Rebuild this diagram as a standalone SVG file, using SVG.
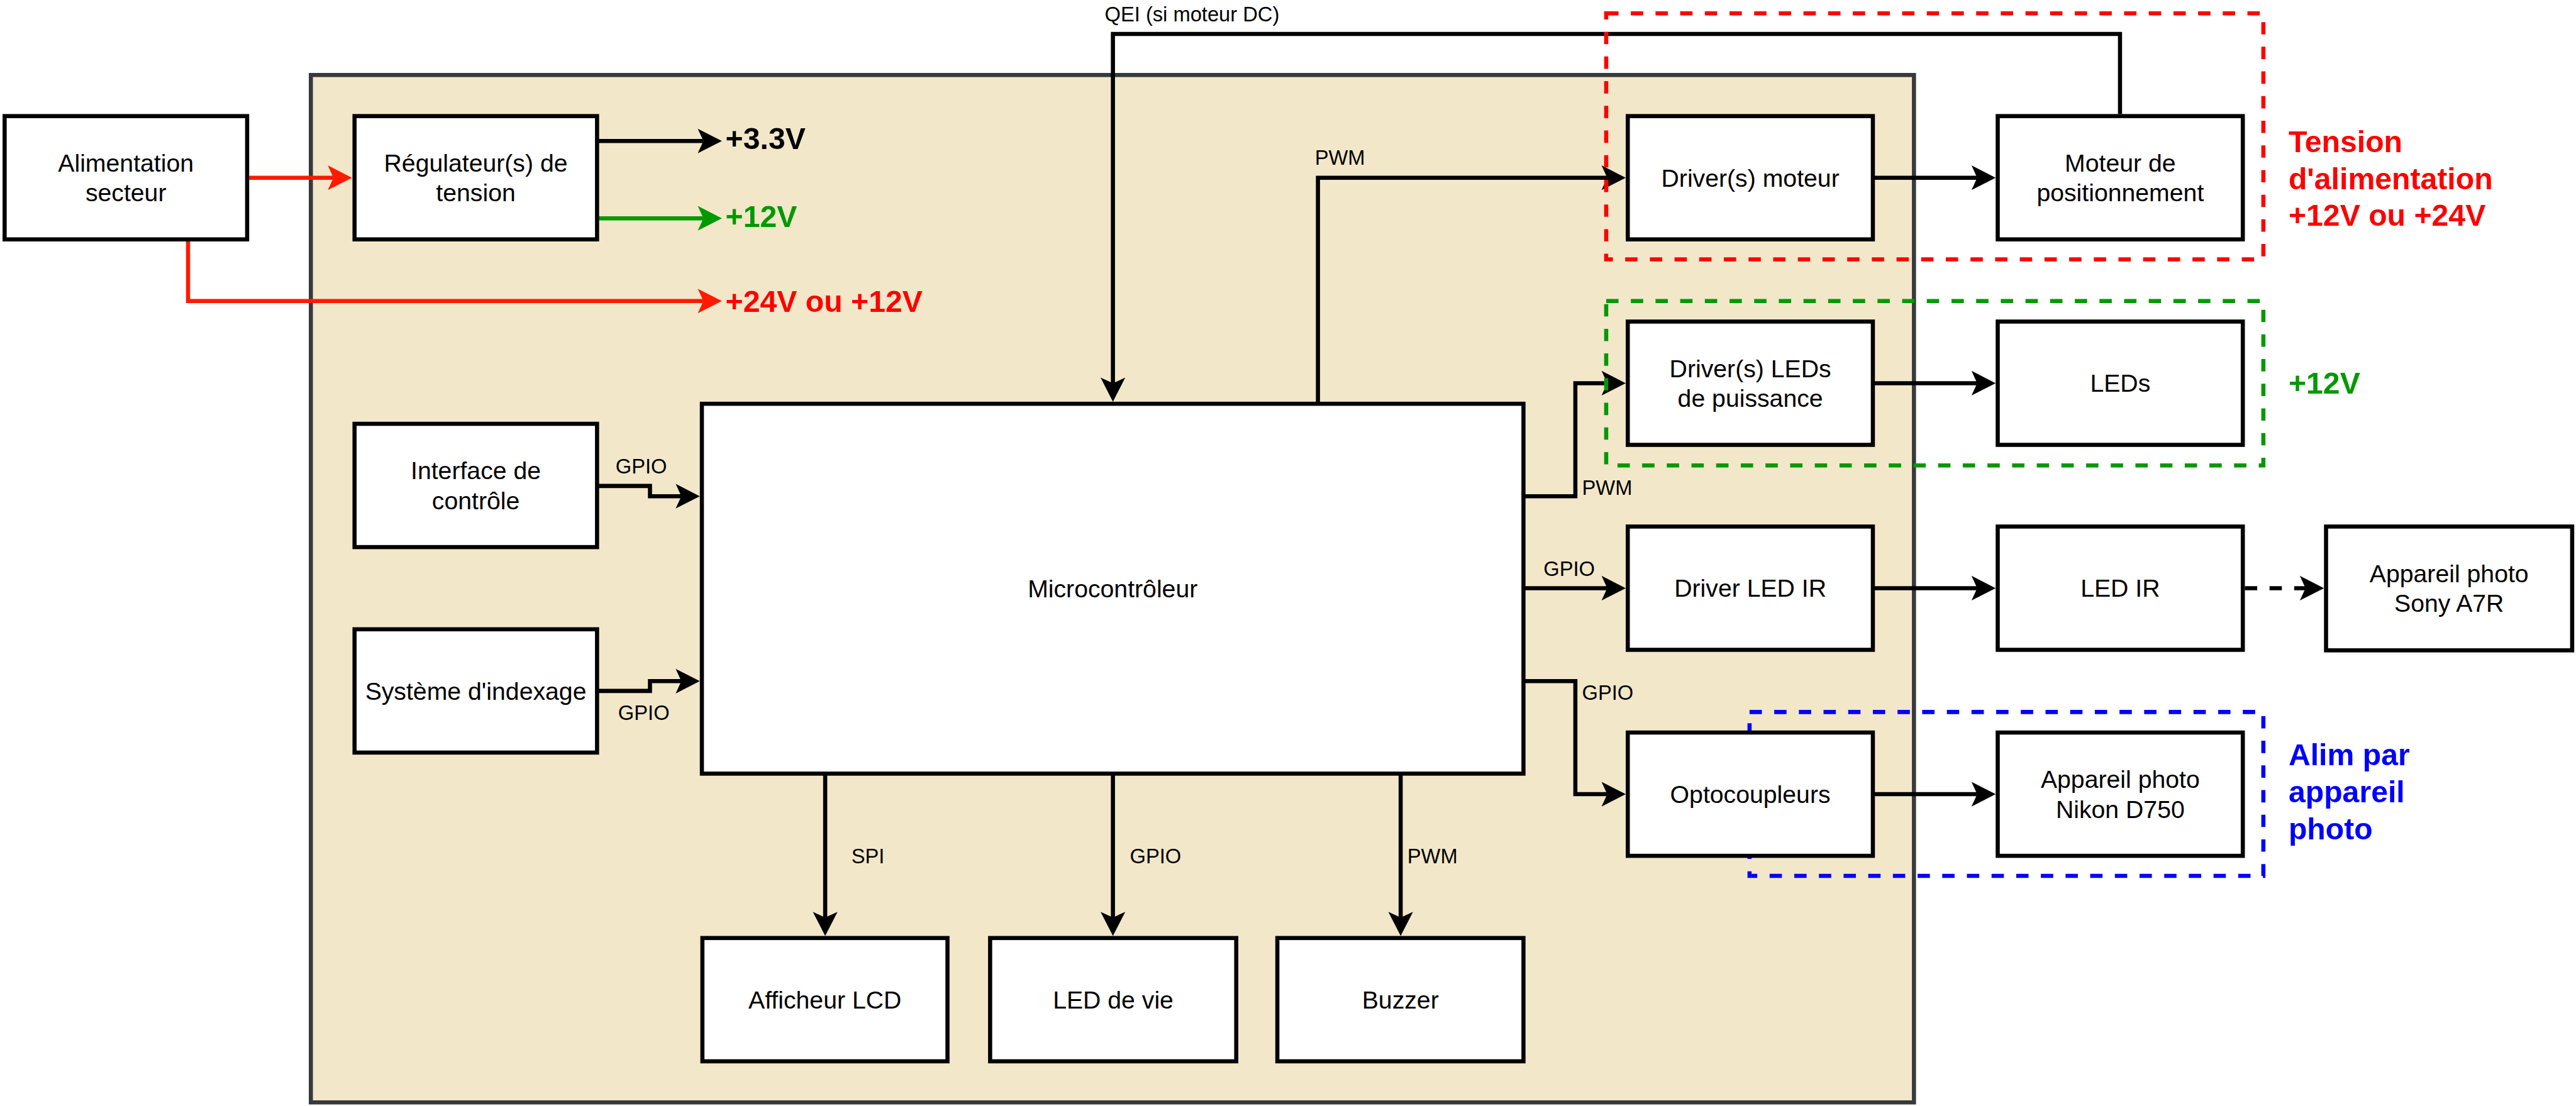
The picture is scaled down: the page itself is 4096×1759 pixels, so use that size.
<svg xmlns="http://www.w3.org/2000/svg" width="4096" height="1759" viewBox="0 0 4096 1759">
<style>
.box{fill:#fff;stroke:#000;stroke-width:8}
.cont{fill:#f2e7c9;stroke:#36393d;stroke-width:8}
.e{fill:none;stroke:#000;stroke-width:8}
.er{stroke:#ff1a00}
.eg{stroke:#009900}
.dsh{stroke-dasharray:24 24}
.grp{fill:none;stroke-width:8;stroke-dasharray:24 24}
text{font-family:"Liberation Sans",Arial,Helvetica,sans-serif;fill:#000}
.t{font-size:48px;text-anchor:middle}
.s{font-size:40px}
.b{font-size:59px;font-weight:bold}
</style>
<defs>
<marker id="ab" markerUnits="userSpaceOnUse" viewBox="-50 -26 52 52" markerWidth="52" markerHeight="52" refX="-36" refY="0" orient="auto" overflow="visible"><path d="M0,0 L-47,-24 L-36,0 L-47,24 Z" fill="#000"/></marker>
<marker id="ar" markerUnits="userSpaceOnUse" viewBox="-50 -26 52 52" markerWidth="52" markerHeight="52" refX="-36" refY="0" orient="auto" overflow="visible"><path d="M0,0 L-47,-24 L-36,0 L-47,24 Z" fill="#ff1a00"/></marker>
<marker id="ag" markerUnits="userSpaceOnUse" viewBox="-50 -26 52 52" markerWidth="52" markerHeight="52" refX="-36" refY="0" orient="auto" overflow="visible"><path d="M0,0 L-47,-24 L-36,0 L-47,24 Z" fill="#009900"/></marker>
</defs>
<rect x="0" y="0" width="4096" height="1759" fill="#fff"/>
<g transform="scale(0.817)">
<g id="carte"><rect class="cont" x="605" y="146" width="3120" height="2000"/></g>

<g id="connectors">
<path class="e er" d="M481,346 L649,346" marker-end="url(#ar)"/>
<path class="e er" d="M366,466 L366,586 L1369,586" marker-end="url(#ar)"/>
<path class="e" d="M1162,274.5 L1369,274.5" marker-end="url(#ab)"/>
<path class="e eg" d="M1162,425 L1369,425" marker-end="url(#ag)"/>
<path class="e" d="M4126,222 L4126,66 L2166,66 L2166,746" marker-end="url(#ab)"/>
<path class="e" d="M2565,786 L2565,346 L3128,346" marker-end="url(#ab)"/>
<path class="e" d="M3645,346 L3848,346" marker-end="url(#ab)"/>
<path class="e" d="M2965,966 L3066,966 L3066,746 L3128,746" marker-end="url(#ab)"/>
<path class="e" d="M3645,746 L3848,746" marker-end="url(#ab)"/>
<path class="e" d="M1162,946 L1265,946 L1265,966 L1326,966" marker-end="url(#ab)"/>
<path class="e" d="M1162,1345 L1265,1345 L1265,1326 L1326,1326" marker-end="url(#ab)"/>
<path class="e" d="M2965,1145 L3128,1145" marker-end="url(#ab)"/>
<path class="e" d="M3645,1145 L3848,1145" marker-end="url(#ab)"/>
<path class="e dsh" d="M4369,1145 L4487,1145" marker-end="url(#ab)"/>
<path class="e" d="M2965,1326 L3066,1326 L3066,1546 L3128,1546" marker-end="url(#ab)"/>
<path class="e" d="M3645,1546 L3848,1546" marker-end="url(#ab)"/>
<path class="e" d="M1606,1506 L1606,1786" marker-end="url(#ab)"/>
<path class="e" d="M2166,1506 L2166,1786" marker-end="url(#ab)"/>
<path class="e" d="M2726,1506 L2726,1786" marker-end="url(#ab)"/>
<text class="s" x="2150" y="42">QEI (si moteur DC)</text>
<text class="s" x="2559" y="321">PWM</text>
<text class="s" x="1198" y="922">GPIO</text>
<text class="s" x="1203" y="1401">GPIO</text>
<text class="s" x="3079" y="963">PWM</text>
<text class="s" x="3004" y="1121">GPIO</text>
<text class="s" x="3079" y="1362">GPIO</text>
<text class="s" x="1657" y="1681">SPI</text>
<text class="s" x="2199" y="1681">GPIO</text>
<text class="s" x="2739" y="1681">PWM</text>
<text class="b" x="1412" y="290">+3.3V</text>
<text class="b" x="1412" y="442" style="fill:#009900">+12V</text>
<text class="b" x="1412" y="607" style="fill:#ff0000">+24V ou +12V</text>
</g>

<g id="zone-moteur">
<rect class="grp" x="3126" y="26" width="1279" height="479" stroke="#ff0000"/>
<text class="b" x="4454" y="296" style="fill:#ff0000">Tension</text>
<text class="b" x="4454" y="368" style="fill:#ff0000">d'alimentation</text>
<text class="b" x="4454" y="440" style="fill:#ff0000">+12V ou +24V</text>
</g>
<g id="zone-leds">
<rect class="grp" x="3126" y="586" width="1279" height="320" stroke="#009900"/>
<text class="b" x="4454" y="766" style="fill:#009900">+12V</text>
</g>
<g id="zone-nikon">
<rect class="grp" x="3405" y="1386" width="1000" height="319" stroke="#0000ff"/>
<text class="b" x="4454" y="1490" style="fill:#0000ff">Alim par</text>
<text class="b" x="4454" y="1562" style="fill:#0000ff">appareil</text>
<text class="b" x="4454" y="1634" style="fill:#0000ff">photo</text>
</g>

<g id="alimentation"><rect class="box" x="9" y="226" width="472" height="240"/><text class="t" x="245" y="334">Alimentation</text><text class="t" x="245" y="392">secteur</text></g>
<g id="regulateur"><rect class="box" x="690" y="226" width="472" height="240"/><text class="t" x="926" y="334">Régulateur(s) de</text><text class="t" x="926" y="392">tension</text></g>
<g id="driver-moteur"><rect class="box" x="3168" y="226" width="477" height="240"/><text class="t" x="3406.5" y="363">Driver(s) moteur</text></g>
<g id="moteur"><rect class="box" x="3888" y="226" width="477" height="240"/><text class="t" x="4126.5" y="334">Moteur de</text><text class="t" x="4126.5" y="392">positionnement</text></g>
<g id="driver-leds"><rect class="box" x="3168" y="626" width="477" height="240"/><text class="t" x="3406.5" y="734">Driver(s) LEDs</text><text class="t" x="3406.5" y="792">de puissance</text></g>
<g id="leds"><rect class="box" x="3888" y="626" width="477" height="240"/><text class="t" x="4126.5" y="763">LEDs</text></g>
<g id="interface"><rect class="box" x="690" y="825" width="472" height="240"/><text class="t" x="926" y="933">Interface de</text><text class="t" x="926" y="991">contrôle</text></g>
<g id="microcontroleur"><rect class="box" x="1366" y="786" width="1599" height="720"/><text class="t" x="2165.5" y="1163">Microcontrôleur</text></g>
<g id="driver-led-ir"><rect class="box" x="3168" y="1025" width="477" height="240"/><text class="t" x="3406.5" y="1162">Driver LED IR</text></g>
<g id="led-ir"><rect class="box" x="3888" y="1025" width="477" height="240"/><text class="t" x="4126.5" y="1162">LED IR</text></g>
<g id="sony"><rect class="box" x="4527" y="1025" width="479" height="241"/><text class="t" x="4766.5" y="1133">Appareil photo</text><text class="t" x="4766.5" y="1191">Sony A7R</text></g>
<g id="indexage"><rect class="box" x="690" y="1225" width="472" height="240"/><text class="t" x="926" y="1362">Système d'indexage</text></g>
<g id="optocoupleurs"><rect class="box" x="3168" y="1426" width="477" height="240"/><text class="t" x="3406.5" y="1563">Optocoupleurs</text></g>
<g id="nikon"><rect class="box" x="3888" y="1426" width="477" height="240"/><text class="t" x="4126.5" y="1534">Appareil photo</text><text class="t" x="4126.5" y="1592">Nikon D750</text></g>
<g id="lcd"><rect class="box" x="1367" y="1826" width="477" height="240"/><text class="t" x="1605.5" y="1963">Afficheur LCD</text></g>
<g id="led-vie"><rect class="box" x="1927" y="1826" width="479" height="240"/><text class="t" x="2166.5" y="1963">LED de vie</text></g>
<g id="buzzer"><rect class="box" x="2486" y="1826" width="479" height="240"/><text class="t" x="2725.5" y="1963">Buzzer</text></g>
</g>
</svg>
